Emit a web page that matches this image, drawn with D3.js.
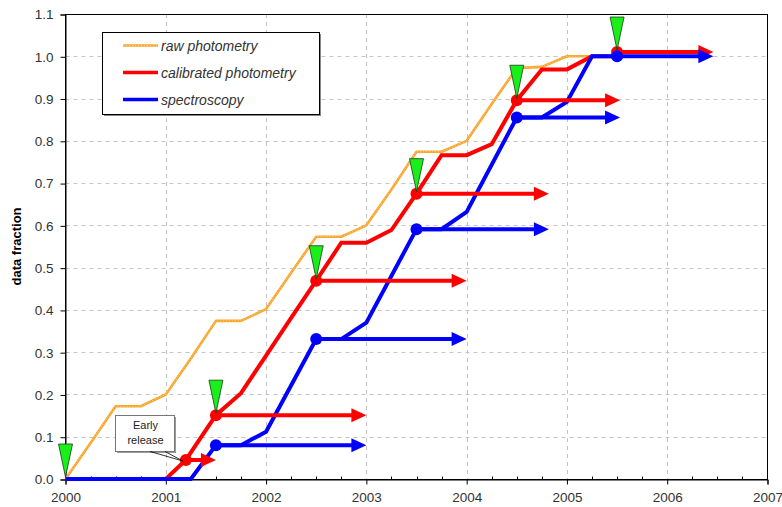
<!DOCTYPE html>
<html>
<head>
<meta charset="utf-8">
<script src="https://cdn.jsdelivr.net/npm/d3@7"></script>
<style>
  body { margin: 0; background: #fff; }
  svg text { font-family: "Liberation Sans", Arial, sans-serif; }
</style>
</head>
<body>
<div id="chart"></div>
<script>
// raw photometry (orange)
var rawX = [2000, 2000.25, 2000.5, 2000.75, 2001, 2001.25, 2001.5, 2001.75, 2002, 2002.25, 2002.5, 2002.75,
            2003, 2003.25, 2003.5, 2003.75, 2004, 2004.25, 2004.5, 2004.75, 2005, 2005.25];
var rawY = [0, 0.085, 0.172, 0.172, 0.2, 0.285, 0.374, 0.374, 0.402, 0.488, 0.573, 0.573,
            0.6, 0.685, 0.774, 0.774, 0.8, 0.887, 0.972, 0.975, 1.0, 1.0];
// calibrated photometry (red)
var calX = [2000, 2001, 2001.2, 2001.5, 2001.75, 2002, 2002.25, 2002.5, 2002.75, 2003, 2003.25, 2003.5,
            2003.75, 2004, 2004.25, 2004.5, 2004.75, 2005, 2005.25, 2005.5];
var calY = [0, 0, 0.045, 0.151, 0.203, 0.292, 0.381, 0.469, 0.559, 0.559, 0.589, 0.675,
            0.766, 0.766, 0.792, 0.896, 0.969, 0.969, 1.0, 1.0];
// spectroscopy (blue)
var specX = [2000, 2001.25, 2001.5, 2001.75, 2002, 2002.5, 2002.75, 2003, 2003.5, 2003.75, 2004, 2004.5,
             2004.75, 2005, 2005.25, 2005.5];
var specY = [0, 0, 0.08, 0.08, 0.112, 0.331, 0.331, 0.37, 0.591, 0.591, 0.632, 0.855,
             0.855, 0.892, 1.0, 1.0];
// data releases
var releaseX = [2001.5, 2002.5, 2003.5, 2004.5, 2005.5];
var releaseEnd = [2003.0, 2004.0, 2004.82, 2005.53, 2006.46];
var calRelease = [0.151, 0.469, 0.675, 0.896, 1.01];
var specRelease = [0.08, 0.331, 0.591, 0.855, 1.0];
var markerX = [2000, 2001.5, 2002.5, 2003.5, 2004.5, 2005.5];
var markerY = [0, 0.151, 0.469, 0.675, 0.896, 1.01];
var early = {x: 2001.2, y: 0.045, end: 2001.5};
var yearTicks = [2000, 2001, 2002, 2003, 2004, 2005, 2006, 2007];
var yTicks = [0, 0.1, 0.2, 0.3, 0.4, 0.5, 0.6, 0.7, 0.8, 0.9, 1.0, 1.1];
var legendLabels = ["raw photometry", "calibrated photometry", "spectroscopy"];

var width = 782, height = 507;
var margin = {top: 14, right: 15, bottom: 28, left: 65};
var svg = d3.select("#chart").append("svg")
    .attr("width", width)
    .attr("height", height);

var x = d3.scaleLinear().domain([2000, 2007]).range([margin.left + 0.5, width - margin.right + 0.5]);
var y = d3.scaleLinear().domain([0, 1.1]).range([height - margin.bottom, margin.top]);

// grid
var grid = svg.append("g").attr("stroke", "#c4c4c4").attr("stroke-dasharray", "4,4");
grid.selectAll(".vg").data(yearTicks.slice(1, -1)).enter().append("line")
    .attr("x1", d => Math.round(x(d)) + 0.5).attr("x2", d => Math.round(x(d)) + 0.5)
    .attr("y1", y(1.1)).attr("y2", y(0));
grid.selectAll(".hg").data(yTicks.slice(1, -1)).enter().append("line")
    .attr("x1", x(2000)).attr("x2", x(2007))
    .attr("y1", d => Math.round(y(d)) + 0.5).attr("y2", d => Math.round(y(d)) + 0.5);

// frame
svg.append("rect")
    .attr("x", x(2000)).attr("y", y(1.1) + 0.5)
    .attr("width", x(2007) - x(2000)).attr("height", y(0) - y(1.1))
    .attr("fill", "none").attr("stroke", "#000");

// axes
var xAxis = d3.axisBottom(x).tickValues(yearTicks).tickFormat(d3.format("d")).tickSize(5).tickPadding(8);
var gx = svg.append("g").attr("transform", "translate(0," + (y(0) + 0.5) + ")").call(xAxis);
var quarters = d3.range(2000.25, 2007, 0.25).filter(d => d % 1 !== 0);
gx.selectAll(".minor").data(quarters).enter().append("line")
    .attr("x1", d => Math.round(x(d)) + 0.5).attr("x2", d => Math.round(x(d)) + 0.5)
    .attr("y1", 0).attr("y2", -3).attr("stroke", "#000");
var yAxis = d3.axisLeft(y).tickValues(yTicks).tickFormat(d3.format(".1f")).tickSize(5).tickPadding(7);
var gy = svg.append("g").attr("transform", "translate(" + x(2000) + ",0.5)").call(yAxis);
[gx, gy].forEach(function(g) {
    g.select(".domain").attr("stroke", "#000");
    g.selectAll(".tick line").attr("stroke", "#000");
    g.selectAll(".tick text").attr("fill", "#333").style("font-size", "13.5px");
});

svg.append("text")
    .attr("transform", "translate(21," + ((y(0) + y(1.1)) / 2) + ") rotate(-90)")
    .attr("text-anchor", "middle")
    .style("font-size", "13px").style("font-weight", "bold")
    .text("data fraction");

// series lines
var line = d3.line().x(d => x(d[0])).y(d => y(d[1]));
var rawPts = d3.zip(rawX, rawY);
svg.append("path").attr("d", line(rawPts)).attr("fill", "none")
    .attr("stroke", "#f9a52c").attr("stroke-width", 2.6).attr("stroke-linejoin", "round");
svg.append("path").attr("d", line(rawPts)).attr("fill", "none")
    .attr("stroke", "#ffd68a").attr("stroke-width", 1).attr("stroke-dasharray", "1,2");
svg.append("path").attr("d", line(d3.zip(calX, calY))).attr("fill", "none")
    .attr("stroke", "#ff0000").attr("stroke-width", 4);
svg.append("path").attr("d", line(d3.zip(specX, specY))).attr("fill", "none")
    .attr("stroke", "#0000ff").attr("stroke-width", 4);

// release arrows
function arrow(x0, x1, v, color) {
    var px1 = x(x1), py = y(v);
    svg.append("line").attr("x1", x(x0)).attr("x2", px1 - 12)
        .attr("y1", py).attr("y2", py)
        .attr("stroke", color).attr("stroke-width", 4);
    svg.append("path")
        .attr("d", "M" + px1 + "," + py + "L" + (px1 - 15) + "," + (py - 7) + "L" + (px1 - 15) + "," + (py + 7) + "Z")
        .attr("fill", color);
    svg.append("circle").attr("cx", x(x0)).attr("cy", py).attr("r", 6).attr("fill", color);
}
releaseX.forEach(function(d, i) { arrow(d, releaseEnd[i], calRelease[i], "#ff0000"); });
arrow(early.x, early.end, early.y, "#ff0000");
releaseX.forEach(function(d, i) { arrow(d, releaseEnd[i], specRelease[i], "#0000ff"); });

// green release markers
svg.selectAll(".mk").data(d3.zip(markerX, markerY)).enter().append("path")
    .attr("d", function(d) {
        var px = x(d[0]), py = y(d[1]) - 2;
        return "M" + px + "," + py + "L" + (px - 7) + "," + (py - 33) + "L" + (px + 7) + "," + (py - 33) + "Z";
    })
    .attr("fill", "#19f019").attr("stroke", "#1a3a1a").attr("stroke-width", 0.8);

// early release callout
var cb = {x: 115, y: 415, w: 59, h: 36};
svg.append("rect").attr("x", cb.x + 2).attr("y", cb.y + 2).attr("width", cb.w).attr("height", cb.h).attr("fill", "#9a9a9a");
svg.append("rect").attr("x", cb.x + 0.5).attr("y", cb.y + 0.5).attr("width", cb.w).attr("height", cb.h)
    .attr("fill", "#fff").attr("stroke", "#777");
svg.append("path")
    .attr("d", "M150," + (cb.y + cb.h + 0.5) + "L" + (x(early.x) - 3) + "," + (y(early.y) + 1) + "L165," + (cb.y + cb.h + 0.5))
    .attr("fill", "none").attr("stroke", "#000").attr("stroke-width", 0.8);
svg.append("text").attr("x", cb.x + cb.w / 2 + 1).attr("y", cb.y + 14).attr("text-anchor", "middle")
    .style("font-size", "11px").attr("fill", "#222").text("Early");
svg.append("text").attr("x", cb.x + cb.w / 2 + 1).attr("y", cb.y + 29).attr("text-anchor", "middle")
    .style("font-size", "11px").attr("fill", "#222").text("release");

// legend
var lg = svg.append("g").attr("transform", "translate(102,32)");
lg.append("rect").attr("x", 2).attr("y", 2).attr("width", 217).attr("height", 82).attr("fill", "#888");
lg.append("rect").attr("x", 0.5).attr("y", 0.5).attr("width", 217).attr("height", 82)
    .attr("fill", "#fff").attr("stroke", "#000");
var legendColors = ["#f9a52c", "#ff0000", "#0000ff"];
legendLabels.forEach(function(t, i) {
    var ly = 13.5 + i * 27;
    lg.append("line").attr("x1", 21).attr("x2", 56).attr("y1", ly).attr("y2", ly)
        .attr("stroke", legendColors[i]).attr("stroke-width", i === 0 ? 2.6 : 3.5);
    if (i === 0) {
        lg.append("line").attr("x1", 21).attr("x2", 56).attr("y1", ly).attr("y2", ly)
            .attr("stroke", "#ffd68a").attr("stroke-width", 1).attr("stroke-dasharray", "1,2");
    }
    lg.append("text").attr("x", 59).attr("y", ly + 5)
        .style("font-size", "14px").style("font-style", "italic").attr("fill", "#333").text(t);
});
</script>
</body>
</html>
